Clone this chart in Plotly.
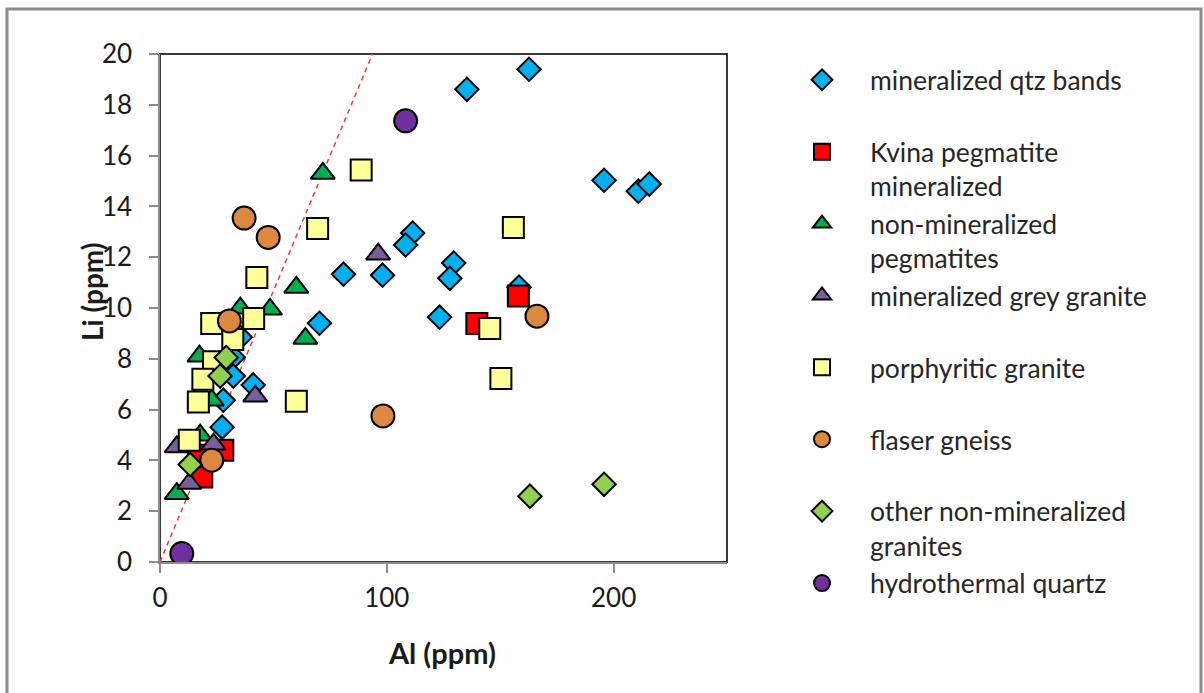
import plotly.graph_objects as go

# ---------------- data ----------------
qtz_al = [162.7, 135.3, 195.8, 210.9, 215.7, 111.4, 108.3, 129.5, 127.8, 80.9, 98.1, 158.3, 123.3, 70.3, 35.4, 32.3, 32.3, 41.1, 27.9, 27.4]
qtz_li = [19.40, 18.61, 15.03, 14.60, 14.88, 12.95, 12.48, 11.77, 11.17, 11.33, 11.29, 10.82, 9.64, 9.40, 8.85, 8.06, 7.32, 6.97, 6.37, 5.31]

kvina_al = [158.0, 139.7, 27.7, 18.4, 16.9]
kvina_li = [10.47, 9.39, 4.40, 3.35, 4.20]

peg_al = [71.8, 60.1, 64.1, 48.5, 35.4, 17.4, 22.8, 17.7, 7.4]
peg_li = [15.30, 10.81, 8.80, 9.95, 9.99, 8.10, 6.37, 4.99, 2.69]

grey_al = [96.2, 42.0, 12.9, 7.4, 23.6]
grey_li = [12.12, 6.53, 3.09, 4.53, 4.64]

porph_al = [88.7, 69.5, 155.8, 145.4, 150.3, 60.1, 42.7, 22.8, 41.3, 32.1, 23.6, 18.9, 16.9, 12.9]
porph_li = [15.43, 13.13, 13.17, 9.19, 7.22, 6.33, 11.20, 9.39, 9.59, 8.76, 7.88, 7.19, 6.30, 4.79]

gneiss_al = [37.1, 47.7, 30.6, 22.8, 98.3, 166.2]
gneiss_li = [13.54, 12.78, 9.49, 4.01, 5.75, 9.68]

other_al = [29.2, 26.5, 13.3, 163.1, 195.8]
other_li = [8.05, 7.32, 3.84, 2.59, 3.06]

hydro_al = [108.3, 9.6]
hydro_li = [17.37, 0.33]

ref_al = [0, 93.7]
ref_li = [0, 20]

x_ticks = [0, 100, 200]
y_ticks = [0, 2, 4, 6, 8, 10, 12, 14, 16, 18, 20]

series = [
    ("mineralized qtz bands<br> ", qtz_al, qtz_li, "diamond", 18, "#00B0F0"),
    ("Kvina pegmatite<br>mineralized", kvina_al, kvina_li, "square", 21, "#FF0000"),
    ("non-mineralized<br>pegmatites", peg_al, peg_li, "triangle-up", 21, "#00B050"),
    ("mineralized grey granite<br> ", grey_al, grey_li, "triangle-up", 21, "#7A5E9C"),
    ("porphyritic granite<br> ", porph_al, porph_li, "square", 21, "#FFFF99"),
    ("flaser gneiss<br> ", gneiss_al, gneiss_li, "circle", 23, "#DC883E"),
    ("other non-mineralized<br>granites", other_al, other_li, "diamond", 18, "#92D050"),
    ("hydrothermal quartz<br> ", hydro_al, hydro_li, "circle", 23, "#7030A0"),
]

# ---------------- layout geometry ----------------
W, H = 1204, 693
L, R, T, B = 160, 727, 54, 562
def px(x):
    return (x - L) / (R - L)
def py(y):
    return (B - y) / (B - T)

FONT = "Lato"
TXT = "#1a1a1a"
fig = go.Figure()

fig.add_trace(go.Scatter(x=ref_al, y=ref_li, mode="lines", showlegend=False,
                         line=dict(color="#F03C3C", width=1.5, dash="5px,4px"),
                         hoverinfo="skip"))

for name, xs, ys, sym, size, col in series:
    fig.add_trace(go.Scatter(
        x=xs, y=ys, mode="markers", name=name, legendgroup=name,
        marker=dict(symbol=sym, size=size, color=col,
                    line=dict(color="#000000", width=2)),
    ))

axis_common = dict(ticks="outside", ticklen=9, tickcolor="#8c8c8c", tickwidth=1.5,
                   showline=True, linecolor="#8c8c8c", linewidth=1.5,
                   showgrid=False, zeroline=False,
                   tickfont=dict(size=26, family=FONT, color=TXT))

fig.update_layout(
    width=W, height=H,
    margin=dict(l=L, r=W - R, t=T, b=H - B, pad=0, autoexpand=False),
    paper_bgcolor="white", plot_bgcolor="white",
    font=dict(family=FONT, size=24, color=TXT),
    xaxis=dict(range=[0, 250], tickvals=x_ticks, ticklabelstandoff=3, **axis_common),
    yaxis=dict(range=[0, 20], tickvals=y_ticks, ticklabelstandoff=12, **axis_common),
    legend=dict(x=px(774), y=1 - 56 / H, xanchor="left", yanchor="top", yref="container",
                font=dict(size=26.5, family=FONT, color="#262626"),
                valign="top", tracegroupgap=0, bgcolor="rgba(0,0,0,0)",
                itemsizing="trace", itemwidth=86, maxheight=1.0),
    showlegend=True,
    shapes=[
        dict(type="rect", xref="paper", yref="paper", x0=0, x1=1, y0=0, y1=1,
             line=dict(color="#3a3a3a", width=2), layer="below"),
        dict(type="rect", xref="paper", yref="paper", x0=px(7), x1=px(1201),
             y0=py(720), y1=py(9), line=dict(color="#8c8c8c", width=3), layer="below"),
    ],
    annotations=[
        dict(text="<b>Li (ppm)</b>", xref="paper", yref="paper", x=px(92), y=py(292),
             showarrow=False, textangle=-90, font=dict(size=28, family=FONT, color=TXT),
             xanchor="center", yanchor="middle"),
        dict(text="<b>Al (ppm)</b>", xref="paper", yref="paper", x=px(442), y=py(652),
             showarrow=False, font=dict(size=29, family=FONT, color=TXT),
             xanchor="center", yanchor="middle"),
    ],
)

fig.write_html("out.html")
